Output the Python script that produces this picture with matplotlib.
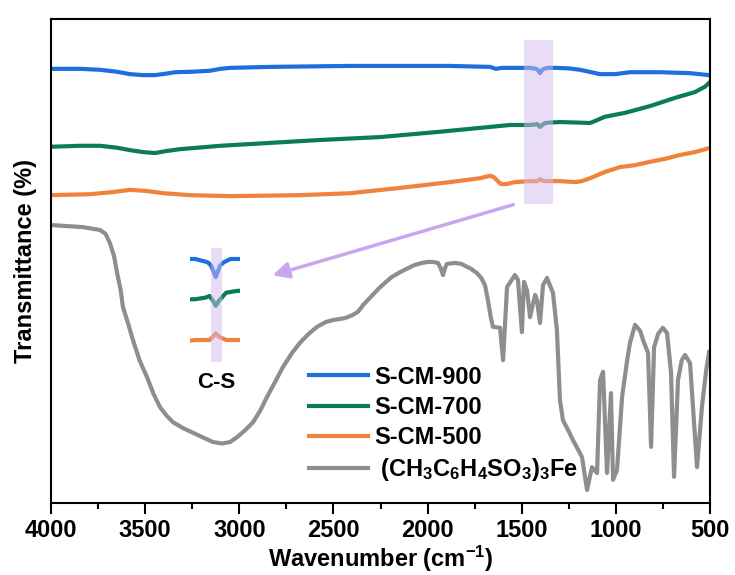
import numpy as np
import matplotlib
matplotlib.use("Agg")
import matplotlib.pyplot as plt

plt.rcParams["font.family"] = ["Liberation Sans", "DejaVu Sans"]
plt.rcParams["font.weight"] = "bold"
plt.rcParams["mathtext.fontset"] = "custom"
plt.rcParams["mathtext.rm"] = "Liberation Sans:bold"
plt.rcParams["mathtext.it"] = "Liberation Sans:bold"
plt.rcParams["mathtext.bf"] = "Liberation Sans:bold"

# FTIR spectra (offset transmittance, arbitrary units)
wn_900 = [4000, 3846, 3740, 3650, 3580, 3510, 3448, 3390, 3341, 3250, 3156, 3100, 3049, 2837, 2412,
          1881, 1668, 1637, 1605, 1456, 1440, 1424, 1415, 1403, 1392, 1382, 1365, 1323, 1250, 1190,
          1130, 1084, 1005, 925, 766, 606, 505]
t_900 = [89.7, 89.7, 89.5, 89.1, 88.6, 88.4, 88.4, 88.7, 89.0, 89.1, 89.3, 89.7, 89.9, 90.1, 90.3,
         90.3, 90.1, 89.7, 89.9, 89.9, 89.8, 89.7, 89.5, 88.8, 89.5, 89.7, 89.9, 89.9, 89.8, 89.5,
         89.0, 88.6, 88.6, 89.0, 89.0, 88.8, 88.4]

wn_700 = [4000, 3846, 3740, 3650, 3580, 3510, 3448, 3390, 3315, 3102, 2837, 2571, 2253, 1934,
          1722, 1562, 1456, 1430, 1419, 1410, 1403, 1395, 1376, 1350, 1297, 1200, 1137, 1100,
          1058, 952, 819, 686, 580, 527, 505]
t_700 = [73.6, 73.8, 73.8, 73.4, 72.9, 72.5, 72.3, 72.7, 73.1, 73.8, 74.4, 75.0, 75.6, 76.7,
         77.5, 78.1, 78.1, 78.2, 78.3, 78.0, 77.7, 78.0, 78.5, 78.6, 78.7, 78.6, 78.5, 79.1,
         79.8, 80.6, 82.0, 83.7, 84.9, 86.0, 86.8]

wn_500 = [4000, 3793, 3680, 3580, 3501, 3400, 3262, 3049, 2678, 2412, 2146, 1881, 1722, 1690,
          1669, 1650, 1632, 1610, 1578, 1536, 1456, 1430, 1419, 1410, 1403, 1395, 1376, 1350,
          1297, 1217, 1180, 1137, 1058, 978, 898, 819, 739, 660, 580, 505]
t_500 = [63.6, 63.8, 64.2, 64.7, 64.5, 64.0, 63.6, 63.4, 63.6, 64.0, 65.1, 66.3, 67.1, 67.4,
         67.6, 67.4, 66.7, 65.9, 65.9, 66.3, 66.5, 66.5, 66.5, 66.7, 66.9, 66.7, 66.5, 66.5,
         66.5, 66.3, 66.5, 67.1, 68.4, 69.4, 69.8, 70.5, 71.1, 71.9, 72.5, 73.3]

wn_fe = [3989, 3830, 3740, 3710, 3687, 3665, 3649, 3630, 3618, 3590, 3565, 3530, 3490, 3455,
         3421, 3385, 3352, 3300, 3246, 3190, 3140, 3090, 3049, 3012, 2970, 2927, 2890, 2853,
         2810, 2768, 2720, 2678, 2630, 2587, 2540, 2502, 2470, 2439, 2400, 2370, 2340, 2306,
         2260, 2226, 2190, 2146, 2100, 2067, 2030, 1998, 1970, 1945, 1930, 1918, 1905, 1897,
         1854, 1820, 1801, 1770, 1738, 1715, 1695, 1680, 1665, 1653, 1615, 1599, 1578, 1536,
         1520, 1499, 1488, 1472, 1456, 1429, 1419, 1403, 1387, 1366, 1334, 1313, 1297, 1281,
         1250, 1228, 1200, 1180, 1153, 1127, 1100, 1084, 1068, 1047, 1026, 1015, 994, 967, 940,
         925, 898, 870, 856, 829, 813, 797, 775, 750, 728, 707, 691, 670, 650, 633, 606, 569,
         543, 520, 505]
t_fe = [57.4, 57.0, 56.4, 55.6, 53.7, 51.0, 47.5, 44.0, 40.5, 37.0, 33.7, 29.5, 26.0, 22.5,
        19.8, 18.0, 16.7, 15.5, 14.5, 13.5, 12.6, 12.3, 12.6, 13.6, 15.0, 16.7, 19.0, 21.9,
        25.0, 28.1, 31.0, 33.1, 35.0, 36.4, 37.4, 37.8, 38.0, 38.2, 38.8, 39.5, 41.0, 42.4,
        44.3, 45.5, 46.7, 47.7, 48.6, 49.2, 49.6, 49.8, 49.8, 49.6, 48.5, 47.1, 48.8, 49.4,
        49.6, 49.4, 49.0, 48.4, 47.5, 46.5, 45.0, 42.0, 38.5, 36.4, 36.2, 29.5, 44.6, 47.1,
        46.1, 35.3, 45.7, 44.0, 38.4, 43.0, 41.9, 37.2, 45.0, 46.5, 43.4, 35.7, 21.3, 17.1,
        14.8, 13.0, 11.0, 9.5, 2.7, 7.4, 6.2, 25.4, 27.1, 6.2, 22.7, 4.8, 6.8, 21.9, 29.5,
        33.1, 36.8, 35.5, 33.7, 31.0, 11.6, 32.2, 35.0, 36.2, 35.1, 26.9, 5.4, 25.4, 29.5,
        30.6, 28.9, 7.4, 19.8, 27.5, 31.2]

labels = ["S-CM-900", "S-CM-700", "S-CM-500", r" (CH$_3$C$_6$H$_4$SO$_3$)$_3$Fe"]
colors = ["#1e6fdc", "#0b7b5e", "#f0823c", "#8e8e8e"]

# C-S band window
cs_lo, cs_hi = 1335, 1490
shade = "#d3bbf0"

fig = plt.figure(figsize=(7.35, 5.75), dpi=100)
ax = fig.add_axes([0.0694, 0.1252, 0.8966, 0.8418])

series = [(wn_900, t_900), (wn_700, t_700), (wn_500, t_500), (wn_fe, t_fe)]
for (x, y), c, lab in zip(series, colors, labels):
    ax.plot(x, y, color=c, lw=3, label=lab, solid_joinstyle="round")

ax.axvspan(cs_lo, cs_hi, ymin=0.618, ymax=0.957, color=shade, alpha=0.5, lw=0, zorder=5)
ax.annotate("", xy=(2837, 46.9), xytext=(1530, 61.8),
            arrowprops=dict(arrowstyle="-|>", color="#c9a6ee", lw=2.5, mutation_scale=24))
ax.text(3124, 25.0, "C-S", fontsize=16, fontweight="bold", ha="center", va="center")

ax.set_xlim(4000, 500)
ax.set_ylim(0, 100)
ax.set_xticks(np.arange(4000, 499, -500))
ax.set_xticks(np.arange(3750, 500, -500), minor=True)
ax.set_yticks([])
ax.tick_params(axis="x", which="major", direction="out", length=8, width=1.5, labelsize=17)
ax.tick_params(axis="x", which="minor", direction="out", length=4, width=1.5)
for s in ax.spines.values():
    s.set_linewidth(1.5)
ax.set_xlabel("Wavenumber (cm$^{-1}$)", fontsize=17, fontweight="bold", labelpad=1)
ax.set_ylabel("Transmittance (%)", fontsize=17, fontweight="bold", labelpad=10)

ax.legend(loc="upper left", bbox_to_anchor=(0.421, 0.364), bbox_transform=fig.transFigure,
          frameon=False, fontsize=17, handlelength=2.5, handletextpad=0.25,
          labelspacing=0.3, borderpad=0, borderaxespad=0)

# zoomed view of the C-S band
ins = fig.add_axes([0.2585, 0.3652, 0.068, 0.2087])
offsets = [-83.45, -74.1, -64.98]
for (x, y), c, off in zip(series[:3], colors[:3], offsets):
    ins.plot(x, np.array(y) + off, color=c, lw=3, solid_joinstyle="round")
ins.axvspan(1415, 1387, ymin=0.025, ymax=0.975, color=shade, alpha=0.5, lw=0, zorder=5)
ins.set_xlim(1470, 1340)
ins.set_ylim(0, 7.3)
ins.axis("off")

fig.savefig("out.png", dpi=100)
